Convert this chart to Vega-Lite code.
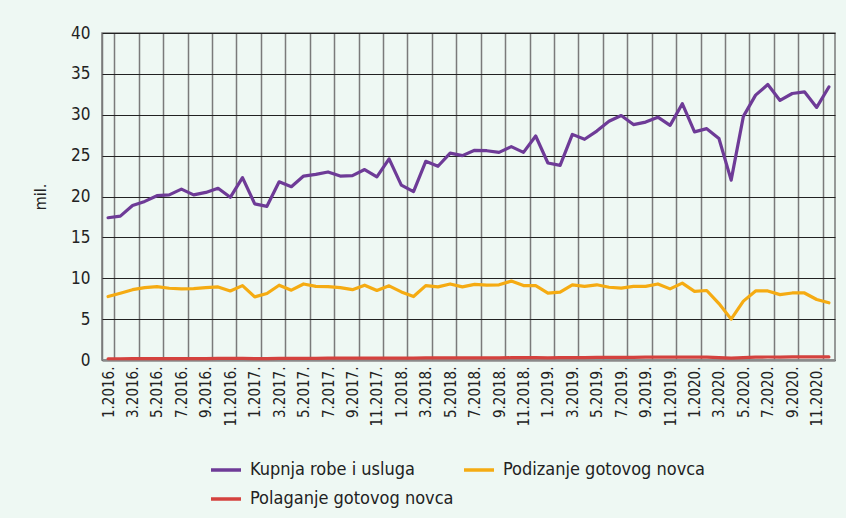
{
  "$schema": "https://vega.github.io/schema/vega-lite/v6.json",
  "autosize": "none",
  "width": 733,
  "height": 327,
  "padding": {"left": 102, "top": 33, "right": 11, "bottom": 158},
  "background": "#eef8f3",
  "config": {
    "font": "Liberation Sans Narrow, DejaVu Sans Condensed, sans-serif",
    "view": {"stroke": "#7a7a7a", "strokeWidth": 1.5}
  },
  "data": {
    "values": [
      {"m":"1.2016.","Kupnja robe i usluga":17.4,"Podizanje gotovog novca":7.76,"Polaganje gotovog novca":0.15},
      {"m":"2.2016.","Kupnja robe i usluga":17.6,"Podizanje gotovog novca":8.17,"Polaganje gotovog novca":0.15},
      {"m":"3.2016.","Kupnja robe i usluga":18.9,"Podizanje gotovog novca":8.6,"Polaganje gotovog novca":0.16},
      {"m":"4.2016.","Kupnja robe i usluga":19.4,"Podizanje gotovog novca":8.86,"Polaganje gotovog novca":0.17},
      {"m":"5.2016.","Kupnja robe i usluga":20.1,"Podizanje gotovog novca":8.98,"Polaganje gotovog novca":0.18},
      {"m":"6.2016.","Kupnja robe i usluga":20.2,"Podizanje gotovog novca":8.78,"Polaganje gotovog novca":0.18},
      {"m":"7.2016.","Kupnja robe i usluga":20.9,"Podizanje gotovog novca":8.7,"Polaganje gotovog novca":0.18},
      {"m":"8.2016.","Kupnja robe i usluga":20.2,"Podizanje gotovog novca":8.74,"Polaganje gotovog novca":0.18},
      {"m":"9.2016.","Kupnja robe i usluga":20.5,"Podizanje gotovog novca":8.86,"Polaganje gotovog novca":0.18},
      {"m":"10.2016.","Kupnja robe i usluga":21.0,"Podizanje gotovog novca":8.94,"Polaganje gotovog novca":0.19},
      {"m":"11.2016.","Kupnja robe i usluga":19.9,"Podizanje gotovog novca":8.45,"Polaganje gotovog novca":0.19},
      {"m":"12.2016.","Kupnja robe i usluga":22.3,"Podizanje gotovog novca":9.1,"Polaganje gotovog novca":0.2},
      {"m":"1.2017.","Kupnja robe i usluga":19.1,"Podizanje gotovog novca":7.72,"Polaganje gotovog novca":0.18},
      {"m":"2.2017.","Kupnja robe i usluga":18.8,"Podizanje gotovog novca":8.13,"Polaganje gotovog novca":0.18},
      {"m":"3.2017.","Kupnja robe i usluga":21.8,"Podizanje gotovog novca":9.15,"Polaganje gotovog novca":0.2},
      {"m":"4.2017.","Kupnja robe i usluga":21.2,"Podizanje gotovog novca":8.54,"Polaganje gotovog novca":0.2},
      {"m":"5.2017.","Kupnja robe i usluga":22.5,"Podizanje gotovog novca":9.3,"Polaganje gotovog novca":0.21},
      {"m":"6.2017.","Kupnja robe i usluga":22.7,"Podizanje gotovog novca":9.0,"Polaganje gotovog novca":0.21},
      {"m":"7.2017.","Kupnja robe i usluga":23.0,"Podizanje gotovog novca":8.98,"Polaganje gotovog novca":0.22},
      {"m":"8.2017.","Kupnja robe i usluga":22.5,"Podizanje gotovog novca":8.86,"Polaganje gotovog novca":0.22},
      {"m":"9.2017.","Kupnja robe i usluga":22.55,"Podizanje gotovog novca":8.6,"Polaganje gotovog novca":0.22},
      {"m":"10.2017.","Kupnja robe i usluga":23.3,"Podizanje gotovog novca":9.15,"Polaganje gotovog novca":0.23},
      {"m":"11.2017.","Kupnja robe i usluga":22.4,"Podizanje gotovog novca":8.5,"Polaganje gotovog novca":0.23},
      {"m":"12.2017.","Kupnja robe i usluga":24.6,"Podizanje gotovog novca":9.07,"Polaganje gotovog novca":0.24},
      {"m":"1.2018.","Kupnja robe i usluga":21.4,"Podizanje gotovog novca":8.33,"Polaganje gotovog novca":0.22},
      {"m":"2.2018.","Kupnja robe i usluga":20.6,"Podizanje gotovog novca":7.76,"Polaganje gotovog novca":0.22},
      {"m":"3.2018.","Kupnja robe i usluga":24.3,"Podizanje gotovog novca":9.1,"Polaganje gotovog novca":0.25},
      {"m":"4.2018.","Kupnja robe i usluga":23.7,"Podizanje gotovog novca":8.94,"Polaganje gotovog novca":0.25},
      {"m":"5.2018.","Kupnja robe i usluga":25.3,"Podizanje gotovog novca":9.3,"Polaganje gotovog novca":0.26},
      {"m":"6.2018.","Kupnja robe i usluga":25.0,"Podizanje gotovog novca":8.95,"Polaganje gotovog novca":0.26},
      {"m":"7.2018.","Kupnja robe i usluga":25.65,"Podizanje gotovog novca":9.25,"Polaganje gotovog novca":0.27},
      {"m":"8.2018.","Kupnja robe i usluga":25.6,"Podizanje gotovog novca":9.15,"Polaganje gotovog novca":0.27},
      {"m":"9.2018.","Kupnja robe i usluga":25.4,"Podizanje gotovog novca":9.2,"Polaganje gotovog novca":0.27},
      {"m":"10.2018.","Kupnja robe i usluga":26.1,"Podizanje gotovog novca":9.65,"Polaganje gotovog novca":0.28},
      {"m":"11.2018.","Kupnja robe i usluga":25.4,"Podizanje gotovog novca":9.1,"Polaganje gotovog novca":0.28},
      {"m":"12.2018.","Kupnja robe i usluga":27.4,"Podizanje gotovog novca":9.1,"Polaganje gotovog novca":0.3},
      {"m":"1.2019.","Kupnja robe i usluga":24.1,"Podizanje gotovog novca":8.17,"Polaganje gotovog novca":0.27},
      {"m":"2.2019.","Kupnja robe i usluga":23.8,"Podizanje gotovog novca":8.3,"Polaganje gotovog novca":0.28},
      {"m":"3.2019.","Kupnja robe i usluga":27.6,"Podizanje gotovog novca":9.2,"Polaganje gotovog novca":0.3},
      {"m":"4.2019.","Kupnja robe i usluga":27.0,"Podizanje gotovog novca":9.0,"Polaganje gotovog novca":0.3},
      {"m":"5.2019.","Kupnja robe i usluga":28.0,"Podizanje gotovog novca":9.2,"Polaganje gotovog novca":0.31},
      {"m":"6.2019.","Kupnja robe i usluga":29.2,"Podizanje gotovog novca":8.9,"Polaganje gotovog novca":0.32},
      {"m":"7.2019.","Kupnja robe i usluga":29.9,"Podizanje gotovog novca":8.8,"Polaganje gotovog novca":0.33},
      {"m":"8.2019.","Kupnja robe i usluga":28.8,"Podizanje gotovog novca":9.0,"Polaganje gotovog novca":0.33},
      {"m":"9.2019.","Kupnja robe i usluga":29.1,"Podizanje gotovog novca":9.0,"Polaganje gotovog novca":0.34},
      {"m":"10.2019.","Kupnja robe i usluga":29.7,"Podizanje gotovog novca":9.3,"Polaganje gotovog novca":0.35},
      {"m":"11.2019.","Kupnja robe i usluga":28.7,"Podizanje gotovog novca":8.7,"Polaganje gotovog novca":0.35},
      {"m":"12.2019.","Kupnja robe i usluga":31.35,"Podizanje gotovog novca":9.4,"Polaganje gotovog novca":0.37},
      {"m":"1.2020.","Kupnja robe i usluga":27.9,"Podizanje gotovog novca":8.4,"Polaganje gotovog novca":0.34},
      {"m":"2.2020.","Kupnja robe i usluga":28.3,"Podizanje gotovog novca":8.5,"Polaganje gotovog novca":0.34},
      {"m":"3.2020.","Kupnja robe i usluga":27.1,"Podizanje gotovog novca":6.9,"Polaganje gotovog novca":0.3},
      {"m":"4.2020.","Kupnja robe i usluga":22.0,"Podizanje gotovog novca":5.0,"Polaganje gotovog novca":0.22},
      {"m":"5.2020.","Kupnja robe i usluga":29.8,"Podizanje gotovog novca":7.2,"Polaganje gotovog novca":0.3},
      {"m":"6.2020.","Kupnja robe i usluga":32.4,"Podizanje gotovog novca":8.45,"Polaganje gotovog novca":0.35},
      {"m":"7.2020.","Kupnja robe i usluga":33.7,"Podizanje gotovog novca":8.45,"Polaganje gotovog novca":0.37},
      {"m":"8.2020.","Kupnja robe i usluga":31.75,"Podizanje gotovog novca":8.0,"Polaganje gotovog novca":0.36},
      {"m":"9.2020.","Kupnja robe i usluga":32.6,"Podizanje gotovog novca":8.2,"Polaganje gotovog novca":0.38},
      {"m":"10.2020.","Kupnja robe i usluga":32.8,"Podizanje gotovog novca":8.2,"Polaganje gotovog novca":0.38},
      {"m":"11.2020.","Kupnja robe i usluga":30.9,"Podizanje gotovog novca":7.4,"Polaganje gotovog novca":0.38},
      {"m":"12.2020.","Kupnja robe i usluga":33.4,"Podizanje gotovog novca":7.0,"Polaganje gotovog novca":0.38}
    ]
  },
  "transform": [
    {"fold": ["Kupnja robe i usluga", "Podizanje gotovog novca", "Polaganje gotovog novca"], "as": ["s", "v"]}
  ],
  "mark": {"type": "line", "strokeWidth": 3.2, "strokeJoin": "round", "strokeCap": "round"},
  "encoding": {
    "x": {
      "field": "m",
      "type": "ordinal",
      "sort": null,
      "scale": {"type": "band", "paddingInner": 0, "paddingOuter": 0},
      "axis": {
        "title": null,
        "values": ["1.2016.","3.2016.","5.2016.","7.2016.","9.2016.","11.2016.","1.2017.","3.2017.","5.2017.","7.2017.","9.2017.","11.2017.","1.2018.","3.2018.","5.2018.","7.2018.","9.2018.","11.2018.","1.2019.","3.2019.","5.2019.","7.2019.","9.2019.","11.2019.","1.2020.","3.2020.","5.2020.","7.2020.","9.2020.","11.2020."],
        "tickBand": "extent",
        "labelAngle": -90,
        "labelAlign": "right",
        "labelBaseline": "middle",
        "labelFontSize": 15,
        "labelColor": "#222222",
        "labelPadding": 6,
        "labelOverlap": false,
        "ticks": false,
        "grid": true,
        "gridColor": "#7a7a7a",
        "gridWidth": 1.5,
        "gridOpacity": 1,
        "domainColor": "#8a8a8a",
        "domainWidth": 2.5,
        "zindex": 0
      }
    },
    "y": {
      "field": "v",
      "type": "quantitative",
      "scale": {"domain": [0, 40], "nice": false},
      "axis": {
        "title": "mil.",
        "titleFontSize": 16,
        "titleFontWeight": "normal",
        "titleColor": "#222222",
        "titlePadding": 22,
        "values": [0, 5, 10, 15, 20, 25, 30, 35, 40],
        "labelFontSize": 17,
        "labelColor": "#222222",
        "labelPadding": 12,
        "ticks": false,
        "domain": false,
        "grid": true,
        "gridColor": "#222222",
        "gridWidth": 1.2,
        "gridOpacity": 1
      }
    },
    "color": {
      "field": "s",
      "type": "nominal",
      "scale": {
        "domain": ["Kupnja robe i usluga", "Podizanje gotovog novca", "Polaganje gotovog novca"],
        "range": ["#6e3b97", "#f5ab12", "#d4423e"]
      },
      "legend": {
        "title": null,
        "orient": "none",
        "legendX": 107,
        "legendY": 420,
        "direction": "horizontal",
        "columns": 2,
        "columnPadding": 3,
        "rowPadding": 3,
        "symbolType": "stroke",
        "symbolSize": 900,
        "symbolStrokeWidth": 3.5,
        "labelFontSize": 18,
        "labelColor": "#222222",
        "labelOffset": 7,
        "labelLimit": 400
      }
    }
  }
}
